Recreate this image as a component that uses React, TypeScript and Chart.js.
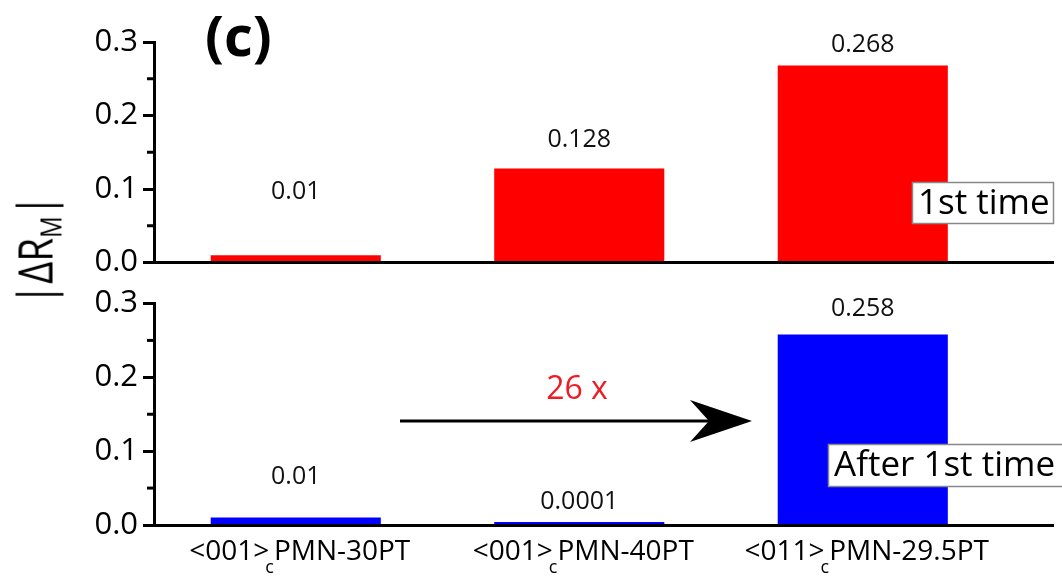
import React, { useEffect, useRef } from 'react';
import { Chart, registerables } from 'chart.js';

Chart.register(...registerables);

// ---------- data ----------
const orientations = ['<001>', '<001>', '<011>'];
const compositions = ['PMN-30PT', 'PMN-40PT', 'PMN-29.5PT'];
const orientationSubscript = 'c';
const categoryIndex = [0, 1, 2];
const firstTime = [0.01, 0.128, 0.268];
const afterFirstTime = [0.01, 0.0001, 0.258];
// heights (in data units) at which the value annotations sit
const firstTimeLabelAt = [0.096, 0.167, 0.296];
const afterFirstTimeLabelAt = [0.065, 0.031, 0.293];
const yMajorTicks = [0, 0.1, 0.2, 0.3];
const yMinorTicks = [0.05, 0.15, 0.25];

const FONT = '"Open Sans", "Noto Sans", sans-serif';
const W = 1062;
const TOP_H = 283;
const BOT_H = 581 - TOP_H;

function drawMinorTicks(chart: any) {
  const ctx = chart.ctx;
  const y = chart.scales.y;
  const left = chart.chartArea.left;
  ctx.save();
  ctx.strokeStyle = '#000';
  ctx.lineWidth = 3;
  yMinorTicks.forEach((v) => {
    const py = y.getPixelForValue(v);
    ctx.beginPath();
    ctx.moveTo(left - 7, py);
    ctx.lineTo(left, py);
    ctx.stroke();
  });
  ctx.restore();
}

function drawValueLabels(chart: any, values: number[], anchors: number[]) {
  const ctx = chart.ctx;
  const meta = chart.getDatasetMeta(0);
  const y = chart.scales.y;
  ctx.save();
  ctx.font = `25px ${FONT}`;
  ctx.fillStyle = '#111';
  ctx.textAlign = 'center';
  ctx.textBaseline = 'middle';
  values.forEach((v, i) => {
    const bar = meta.data[i];
    ctx.fillText(String(v), bar.x, y.getPixelForValue(anchors[i]));
  });
  ctx.restore();
}

function drawBox(ctx: any, x: number, y: number, w: number, h: number, text: string) {
  ctx.save();
  ctx.fillStyle = '#fff';
  ctx.fillRect(x, y, w, h);
  ctx.strokeStyle = '#888';
  ctx.lineWidth = 1.5;
  ctx.strokeRect(x + 0.5, y + 0.5, w - 1, h - 1);
  ctx.fillStyle = '#000';
  ctx.font = `35px ${FONT}`;
  ctx.textAlign = 'left';
  ctx.textBaseline = 'middle';
  ctx.fillText(text, x + 6, y + h / 2 + 1);
  ctx.restore();
}

function baseOptions(padTop: number, xHeight: number) {
  return {
    animation: false,
    responsive: false,
    maintainAspectRatio: false,
    layout: { padding: { top: padTop, right: 9, bottom: 0, left: 0 } },
    plugins: { legend: { display: false }, tooltip: { enabled: false }, title: { display: false } },
    scales: {
      x: {
        type: 'linear',
        offset: false,
        min: -0.5,
        max: 2.671,
        afterBuildTicks: (s: any) => {
          s.ticks = categoryIndex.map((v) => ({ value: v }));
        },
        afterFit: (s: any) => {
          s.height = xHeight;
        },
        grid: { display: false, drawTicks: false, offset: false },
        ticks: { display: false },
        border: { display: true, color: '#000', width: 3, z: 1 },
      },
      y: {
        min: 0,
        max: 0.3,
        afterBuildTicks: (s: any) => {
          s.ticks = yMajorTicks.map((v) => ({ value: v }));
        },
        afterFit: (s: any) => {
          s.width = 154;
        },
        ticks: {
          color: '#000',
          padding: 5,
          font: { family: FONT, size: 31, lineHeight: 1 },
          callback: (v: any) => Number(v).toFixed(1),
        },
        grid: {
          display: true,
          drawOnChartArea: false,
          drawTicks: true,
          tickLength: 11,
          tickWidth: 3,
          tickColor: '#000',
        },
        border: { display: true, color: '#000', width: 3 },
      },
    },
  };
}

function barData(values: number[], color: string) {
  return {
    datasets: [
      {
        data: values.map((v, i) => ({ x: categoryIndex[i], y: v })),
        backgroundColor: color,
        borderWidth: 0,
        barPercentage: 1,
        categoryPercentage: 0.6,
        minBarLength: 3,
      },
    ],
  };
}

export default function App() {
  const topRef = useRef<HTMLCanvasElement>(null);
  const botRef = useRef<HTMLCanvasElement>(null);

  useEffect(() => {
    const topPlugin = {
      id: 'topDecor',
      afterDraw(chart: any) {
        const ctx = chart.ctx;
        drawMinorTicks(chart);
        drawValueLabels(chart, firstTime, firstTimeLabelAt);
        ctx.save();
        ctx.font = `bold 56px ${FONT}`;
        ctx.fillStyle = '#000';
        ctx.textAlign = 'left';
        ctx.textBaseline = 'middle';
        ctx.fillText('(c)', 205, 40);
        ctx.restore();
        drawBox(ctx, 912, 182, 142, 42, '1st time');
      },
    };
    const botPlugin = {
      id: 'botDecor',
      afterDraw(chart: any) {
        const ctx = chart.ctx;
        drawMinorTicks(chart);
        drawValueLabels(chart, afterFirstTime, afterFirstTimeLabelAt);
        // category labels with subscript
        const xs = chart.scales.x;
        ctx.save();
        ctx.fillStyle = '#000';
        ctx.textBaseline = 'middle';
        ctx.textAlign = 'left';
        categoryIndex.forEach((c, i) => {
          const big = `28px ${FONT}`;
          const small = `18px ${FONT}`;
          ctx.font = big;
          const w1 = ctx.measureText(orientations[i]).width;
          const w3 = ctx.measureText(compositions[i]).width;
          ctx.font = small;
          const w2 = ctx.measureText(orientationSubscript).width;
          const total = w1 + w2 - 4 + w3;
          let x = xs.getPixelForValue(c) - total / 2 + 4;
          ctx.font = big;
          ctx.fillText(orientations[i], x, 269);
          x += w1 - 4;
          ctx.font = small;
          ctx.fillText(orientationSubscript, x, 285);
          x += w2;
          ctx.font = big;
          ctx.fillText(compositions[i], x, 269);
        });
        ctx.restore();
        // arrow
        ctx.save();
        ctx.strokeStyle = '#000';
        ctx.fillStyle = '#000';
        ctx.lineWidth = 3;
        ctx.beginPath();
        ctx.moveTo(400, 138);
        ctx.lineTo(715, 138);
        ctx.stroke();
        ctx.beginPath();
        ctx.moveTo(752, 138);
        ctx.lineTo(690, 117);
        ctx.lineTo(709, 138);
        ctx.lineTo(690, 159);
        ctx.closePath();
        ctx.fill();
        ctx.fillStyle = '#ee1c24';
        ctx.font = `32px ${FONT}`;
        ctx.textAlign = 'center';
        ctx.textBaseline = 'middle';
        ctx.fillText('26 x', 577, 107);
        ctx.restore();
        drawBox(ctx, 828, 161, 240, 43, 'After 1st time');
      },
    };

    const top = new Chart(topRef.current as HTMLCanvasElement, {
      type: 'bar',
      data: barData(firstTime, '#ff0000') as any,
      options: baseOptions(42, 16) as any,
      plugins: [topPlugin],
    });
    const bot = new Chart(botRef.current as HTMLCanvasElement, {
      type: 'bar',
      data: barData(afterFirstTime, '#0000ff') as any,
      options: baseOptions(17, 56) as any,
      plugins: [botPlugin],
    });
    return () => {
      top.destroy();
      bot.destroy();
    };
  }, []);

  return (
    <div style={{ position: 'absolute', left: 0, top: 0, width: W, height: 581, background: '#fff', overflow: 'hidden' }}>
      <canvas
        ref={topRef}
        width={W}
        height={TOP_H}
        style={{ position: 'absolute', left: 0, top: 0, width: W, height: TOP_H }}
      />
      <canvas
        ref={botRef}
        width={W}
        height={BOT_H}
        style={{ position: 'absolute', left: 0, top: TOP_H, width: W, height: BOT_H }}
      />
      <div
        style={{
          position: 'absolute',
          left: 38,
          top: 250,
          transform: 'translate(-50%, -50%) rotate(-90deg) scaleX(0.8)',
          fontFamily: FONT,
          fontSize: 48,
          lineHeight: 1,
          whiteSpace: 'nowrap',
          color: '#000',
        }}
      >
        |ΔR<sub style={{ fontSize: 30, verticalAlign: '-0.3em' }}>M</sub>|
      </div>
    </div>
  );
}
